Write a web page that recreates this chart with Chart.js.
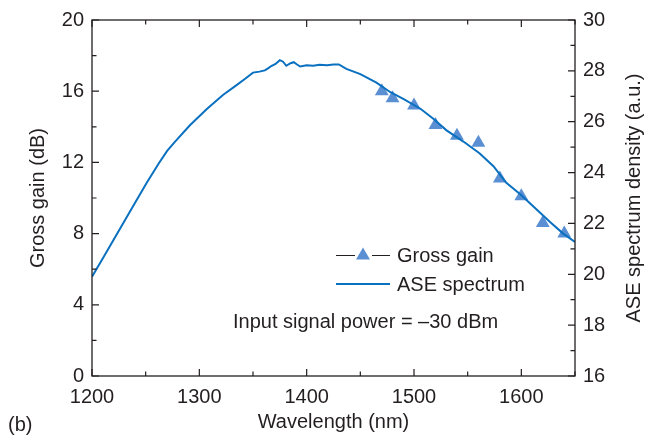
<!DOCTYPE html>
<html>
<head>
<meta charset="utf-8">
<script src="https://cdn.jsdelivr.net/npm/chart.js@4/dist/chart.umd.min.js"></script>
<style>
  html, body { margin: 0; padding: 0; background: #fff; }
  #wrap { width: 651px; height: 440px; }
</style>
</head>
<body>
<div id="wrap"><canvas id="chart" width="651" height="440"></canvas></div>
<script>
// Gross gain measurements (left axis, dB)
const gainWavelengths = [1470, 1480, 1500, 1520, 1540, 1560, 1580, 1600, 1620, 1640];
const gainValues = [16.0, 15.6, 15.2, 14.1, 13.5, 13.1, 11.1, 10.1, 8.6, 8.0];

// ASE spectrum (right axis, a.u.)
const aseWavelengths = [1200, 1210, 1220, 1230, 1240, 1251, 1262, 1270, 1277, 1291, 1307, 1322, 1335,
  1343, 1350, 1356, 1361, 1364, 1367, 1371, 1375, 1378, 1381, 1385, 1388, 1391, 1394, 1400, 1406,
  1412, 1419, 1425, 1430, 1437, 1450, 1465, 1478, 1490, 1506, 1518, 1530, 1546, 1561, 1574,
  1586, 1599, 1614, 1627, 1639, 1650];
const aseValues = [19.9, 20.62, 21.35, 22.08, 22.8, 23.6, 24.35, 24.85, 25.2, 25.85, 26.5, 27.05, 27.45,
  27.7, 27.93, 27.97, 28.02, 28.1, 28.19, 28.27, 28.42, 28.36, 28.2, 28.3, 28.34, 28.25, 28.17, 28.22, 28.2,
  28.24, 28.22, 28.25, 28.25, 28.08, 27.87, 27.54, 27.16, 26.9, 26.51, 26.12, 25.67, 25.22, 24.76, 24.25,
  23.6, 23.15, 22.56, 22.05, 21.6, 21.27];

// tick labels
const xTicks = [1200, 1300, 1400, 1500, 1600];
const xMinorTicks = [1250, 1350, 1450, 1550, 1650];
const gainTicks = [0, 4, 8, 12, 16, 20];
const gainMinorTicks = [2, 6, 10, 14, 18];
const aseTicks = [16, 18, 20, 22, 24, 26, 28, 30];
const aseMinorTicks = [17, 19, 21, 23, 25, 27, 29];

const FONT = '"Liberation Sans", Arial, sans-serif';
const INK = '#231f20';
const ASE_BLUE = '#0a70c0';
const TRI_BLUE = '#5b8fd3';

Chart.defaults.font.family = FONT;
Chart.defaults.color = INK;

// frame, inward ticks, legend and notes
const framePlugin = {
  id: 'frame',
  afterDraw(chart) {
    const { ctx, chartArea: a, scales } = chart;
    ctx.save();
    ctx.strokeStyle = INK;
    ctx.lineWidth = 1.3;
    ctx.strokeRect(a.left, a.top, a.right - a.left, a.bottom - a.top);

    ctx.lineWidth = 1.2;
    ctx.beginPath();
    const xt = (vals, len) => vals.forEach(v => {
      const px = scales.x.getPixelForValue(v);
      ctx.moveTo(px, a.bottom); ctx.lineTo(px, a.bottom - len);
      ctx.moveTo(px, a.top); ctx.lineTo(px, a.top + len);
    });
    xt(xTicks, 7); xt(xMinorTicks, 4.5);
    const yl = (vals, len) => vals.forEach(v => {
      const py = scales.y.getPixelForValue(v);
      ctx.moveTo(a.left, py); ctx.lineTo(a.left + len, py);
    });
    yl(gainTicks, 7); yl(gainMinorTicks, 4.5);
    const yr = (vals, len) => vals.forEach(v => {
      const py = scales.y2.getPixelForValue(v);
      ctx.moveTo(a.right, py); ctx.lineTo(a.right - len, py);
    });
    yr(aseTicks, 7); yr(aseMinorTicks, 4.5);
    ctx.stroke();

    // legend
    ctx.font = '20px ' + FONT;
    ctx.fillStyle = INK;
    ctx.textBaseline = 'middle';
    ctx.textAlign = 'left';
    ctx.lineWidth = 1;
    ctx.strokeStyle = INK;
    ctx.beginPath();
    ctx.moveTo(336, 255.5); ctx.lineTo(355, 255.5);
    ctx.moveTo(372, 255.5); ctx.lineTo(390, 255.5);
    ctx.stroke();
    ctx.fillStyle = TRI_BLUE;
    ctx.beginPath();
    ctx.moveTo(363, 247.5); ctx.lineTo(370, 259.5); ctx.lineTo(356, 259.5); ctx.closePath();
    ctx.fill();
    ctx.strokeStyle = ASE_BLUE;
    ctx.lineWidth = 2;
    ctx.beginPath();
    ctx.moveTo(336, 284); ctx.lineTo(390, 284);
    ctx.stroke();
    ctx.fillStyle = INK;
    ctx.fillText('Gross gain', 397, 256);
    ctx.fillText('ASE spectrum', 397, 285);
    ctx.fillText('Input signal power = \u201330 dBm', 233, 322);
    ctx.fillText('(b)', 8, 425);

    // right axis title, reading upwards
    ctx.translate(634, (a.top + a.bottom) / 2);
    ctx.rotate(-Math.PI / 2);
    ctx.textAlign = 'center';
    ctx.fillText('ASE spectrum density (a.u.)', 0, 0);
    ctx.restore();
  }
};

new Chart(document.getElementById('chart'), {
  type: 'line',
  data: {
    datasets: [
      {
        label: 'ASE spectrum',
        data: aseWavelengths.map((w, i) => ({ x: w, y: aseValues[i] })),
        yAxisID: 'y2',
        borderColor: ASE_BLUE,
        borderWidth: 2,
        pointRadius: 0,
        tension: 0,
        order: 0
      },
      {
        label: 'Gross gain',
        data: gainWavelengths.map((w, i) => ({ x: w, y: gainValues[i] })),
        yAxisID: 'y',
        showLine: false,
        pointStyle: 'triangle',
        pointRadius: 8,
        pointBackgroundColor: TRI_BLUE,
        pointBorderColor: TRI_BLUE,
        pointBorderWidth: 0,
        order: 1
      }
    ]
  },
  options: {
    responsive: false,
    animation: false,
    layout: { padding: { top: 15, left: 0, right: 0, bottom: 0 } },
    plugins: { legend: { display: false }, tooltip: { enabled: false } },
    scales: {
      x: {
        type: 'linear',
        min: 1200,
        max: 1650,
        grid: { display: false, drawTicks: false },
        border: { display: false },
        afterBuildTicks: s => { s.ticks = xTicks.map(v => ({ value: v })); },
        afterFit: s => { s.height = 64; },
        ticks: { font: { size: 20 }, padding: 9, maxRotation: 0, callback: v => String(v) },
        title: { display: true, text: 'Wavelength (nm)', font: { size: 20 }, padding: { top: 0, bottom: 6 } }
      },
      y: {
        position: 'left',
        min: 0,
        max: 20,
        grid: { display: false, drawTicks: false },
        border: { display: false },
        afterBuildTicks: s => { s.ticks = gainTicks.map(v => ({ value: v })); },
        afterFit: s => { s.width = 92; },
        ticks: { font: { size: 20 }, padding: 8 },
        title: { display: true, text: 'Gross gain (dB)', font: { size: 20 }, padding: { top: 26, bottom: 0 } }
      },
      y2: {
        position: 'right',
        min: 16,
        max: 30,
        grid: { display: false, drawTicks: false },
        border: { display: false },
        afterBuildTicks: s => { s.ticks = aseTicks.map(v => ({ value: v })); },
        afterFit: s => { s.width = 76; },
        ticks: { font: { size: 20 }, padding: 8 }
      }
    }
  },
  plugins: [framePlugin]
});
</script>
</body>
</html>
